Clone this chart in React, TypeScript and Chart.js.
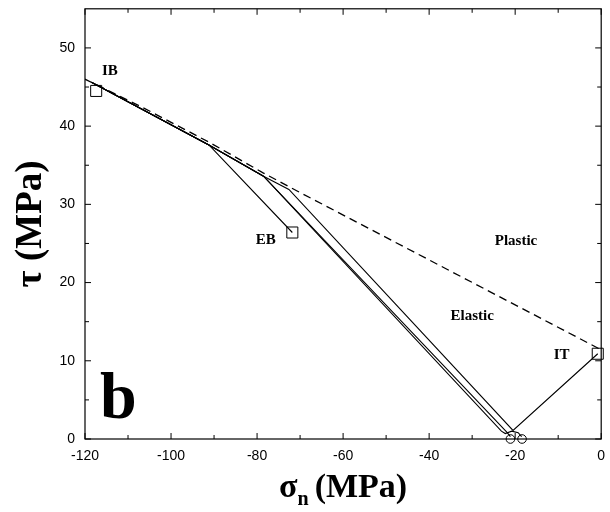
import React, { useEffect, useRef } from "react";
import { Chart, registerables } from "chart.js";

Chart.register(...registerables);

// Axis ticks
const xTicks = [-120, -100, -80, -60, -40, -20, 0];
const yTicks = [0, 10, 20, 30, 40, 50];
const xMinorTicks = [-110, -90, -70, -50, -30, -10];
const yMinorTicks = [5, 15, 25, 35, 45];

// Failure envelope (dashed)
const envelopeX = [-120, -107, -91, -78.5, -72.4, 0];
const envelopeY = [46.0, 42.5, 37.9, 34.0, 32.2, 11.4];

// Stress path ending at EB
const pathEbX = [-118.5, -91.2, -71.8];
const pathEbY = [45.6, 37.6, 26.4];

// Stress path through the elastic region up to IT
const pathItX = [-118.5, -91.2, -78.5, -72.6, -20.5, -0.8];
const pathItY = [45.6, 37.6, 33.6, 31.9, 1.1, 10.9];

// Two stress paths ending near the σn axis
const pathAX = [-118.5, -91.2, -78.5, -22.0, -21.1];
const pathAY = [45.6, 37.6, 33.6, 0.9, 0.3];
const pathBX = [-118.5, -91.2, -78.5, -23.2, -22.3, -20.8, -19.3, -18.5];
const pathBY = [45.6, 37.6, 33.6, 1.0, 0.7, 1.0, 0.8, 0.3];

// Square markers: IB, EB, IT
const squareX = [-117.4, -71.8, -0.8];
const squareY = [44.5, 26.4, 10.9];

// Circle markers on the σn axis
const circleX = [-21.1, -18.4];
const circleY = [0, 0];

// Region and point labels
const labelText = ["IB", "EB", "Plastic", "Elastic", "IT"];
const labelX = [-114.2, -78.0, -19.8, -30.0, -9.2];
const labelY = [47.0, 25.4, 25.3, 15.7, 10.7];

const zip = (xs: number[], ys: number[]) => xs.map((x, i) => ({ x, y: ys[i] }));

const SERIF = "'Liberation Serif', 'Times New Roman', serif";
const SANS = "'Liberation Sans', Arial, sans-serif";

const framePlugin = {
  id: "frameAndText",
  afterDatasetsDraw(chart: any) {
    const { ctx, chartArea: a, scales } = chart;
    const xs = scales.x;
    const ys = scales.y;
    ctx.save();
    ctx.strokeStyle = "#000";
    ctx.lineWidth = 1.2;
    ctx.strokeRect(a.left, a.top, a.right - a.left, a.bottom - a.top);

    const tick = (len: number, vals: number[], horiz: boolean) => {
      vals.forEach((v) => {
        if (horiz) {
          const px = xs.getPixelForValue(v);
          ctx.beginPath();
          ctx.moveTo(px, a.bottom);
          ctx.lineTo(px, a.bottom - len);
          ctx.moveTo(px, a.top);
          ctx.lineTo(px, a.top + len);
          ctx.stroke();
        } else {
          const py = ys.getPixelForValue(v);
          ctx.beginPath();
          ctx.moveTo(a.left, py);
          ctx.lineTo(a.left + len, py);
          ctx.moveTo(a.right, py);
          ctx.lineTo(a.right - len, py);
          ctx.stroke();
        }
      });
    };
    ctx.lineWidth = 1;
    tick(6, xTicks, true);
    tick(4, xMinorTicks, true);
    tick(6, yTicks, false);
    tick(4, yMinorTicks, false);

    // Point / region labels
    ctx.fillStyle = "#000";
    ctx.font = `bold 15px ${SERIF}`;
    ctx.textAlign = "center";
    ctx.textBaseline = "middle";
    labelText.forEach((t, i) => {
      ctx.fillText(t, xs.getPixelForValue(labelX[i]), ys.getPixelForValue(labelY[i]));
    });

    // Panel letter
    ctx.font = `bold 66px ${SERIF}`;
    ctx.textAlign = "left";
    ctx.textBaseline = "alphabetic";
    ctx.fillText("b", a.left + 15, a.bottom - 21);

    // Y axis title
    ctx.save();
    ctx.translate(31, (a.top + a.bottom) / 2);
    ctx.rotate(-Math.PI / 2);
    ctx.font = `bold 37px ${SERIF}`;
    ctx.textAlign = "center";
    ctx.textBaseline = "middle";
    ctx.fillText("τ (MPa)", 0, 0);
    ctx.restore();

    // X axis title with subscript
    const cx = (a.left + a.right) / 2;
    const base = 497;
    const gap = 6;
    ctx.font = `bold 34px ${SERIF}`;
    const wSig = ctx.measureText("σ").width;
    const wRest = ctx.measureText("(MPa)").width;
    ctx.font = `bold 20px ${SERIF}`;
    const wSub = ctx.measureText("n").width;
    let x0 = cx - (wSig + wSub + gap + wRest) / 2;
    ctx.textAlign = "left";
    ctx.font = `bold 34px ${SERIF}`;
    ctx.fillText("σ", x0, base);
    x0 += wSig;
    ctx.font = `bold 20px ${SERIF}`;
    ctx.fillText("n", x0, base + 8);
    x0 += wSub + gap;
    ctx.font = `bold 34px ${SERIF}`;
    ctx.fillText("(MPa)", x0, base);
    ctx.restore();
  },
};

const noPad = (s: any) => {
  s.paddingTop = 0;
  s.paddingBottom = 0;
  s.paddingLeft = 0;
  s.paddingRight = 0;
};

export default function App() {
  const ref = useRef<HTMLCanvasElement>(null);

  useEffect(() => {
    if (!ref.current) return;
    const line = (xs: number[], ys: number[], dash: number[] = [], width = 1.1) => ({
      data: zip(xs, ys),
      showLine: true,
      borderColor: "#000",
      borderWidth: width,
      borderDash: dash,
      pointRadius: 0,
      fill: false,
    });
    const chart = new Chart(ref.current, {
      type: "scatter",
      data: {
        datasets: [
          line(envelopeX, envelopeY, [8, 5], 1.3),
          line(pathEbX, pathEbY),
          line(pathItX, pathItY),
          line(pathAX, pathAY),
          line(pathBX, pathBY),
          {
            data: zip(squareX, squareY),
            showLine: false,
            pointStyle: "rect",
            pointRadius: 7.8,
            pointBorderWidth: 1,
            pointBorderColor: "#000",
            pointBackgroundColor: "rgba(0,0,0,0)",
            clip: false,
          },
          {
            data: zip(circleX, circleY),
            showLine: false,
            pointStyle: "circle",
            pointRadius: 4.3,
            pointBorderWidth: 1,
            pointBorderColor: "#000",
            pointBackgroundColor: "rgba(0,0,0,0)",
            clip: false,
          },
        ] as any,
      },
      options: {
        animation: false,
        responsive: false,
        maintainAspectRatio: false,
        layout: { padding: { top: 8, right: 4, left: 0, bottom: 0 } },
        plugins: {
          legend: { display: false },
          tooltip: { enabled: false },
        },
        scales: {
          x: {
            type: "linear",
            min: -120,
            max: 0,
            grid: { display: false, drawTicks: false },
            border: { display: false },
            ticks: {
              color: "#000",
              font: { family: SANS, size: 14 },
              padding: 9,
              maxRotation: 0,
              autoSkip: false,
            },
            afterBuildTicks: (s: any) => {
              s.ticks = xTicks.map((v) => ({ value: v }));
            },
            afterFit: (s: any) => {
              s.height = 73;
              noPad(s);
            },
          },
          y: {
            type: "linear",
            min: 0,
            max: 55,
            grid: { display: false, drawTicks: false },
            border: { display: false },
            ticks: {
              color: "#000",
              font: { family: SANS, size: 14 },
              padding: 10,
              autoSkip: false,
            },
            afterBuildTicks: (s: any) => {
              s.ticks = yTicks.map((v) => ({ value: v }));
            },
            afterFit: (s: any) => {
              s.width = 85;
              noPad(s);
            },
          },
        },
      },
      plugins: [framePlugin],
    });
    return () => chart.destroy();
  }, []);

  return (
    <div style={{ position: "absolute", left: 0, top: 0, width: 610, height: 512, background: "#fff" }}>
      <canvas ref={ref} width={610} height={512} style={{ display: "block" }} />
    </div>
  );
}
